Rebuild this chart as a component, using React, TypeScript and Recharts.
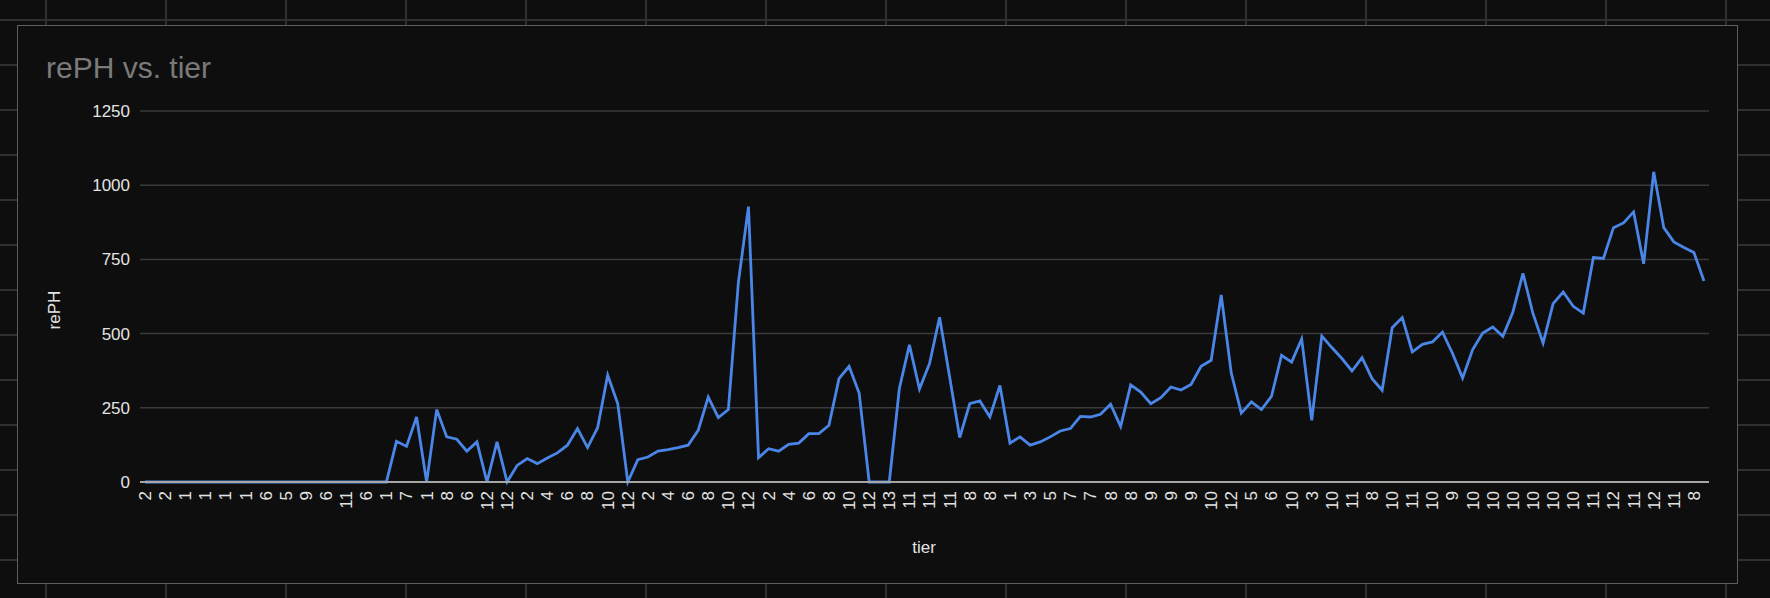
import React from 'react';
import { LineChart, Line, XAxis, YAxis, CartesianGrid } from 'recharts';

const TITLE = 'rePH vs. tier';
const X_TITLE = 'tier';
const Y_TITLE = 'rePH';

const tiers = [
  2, 2, 2, 1, 1, 1, 1, 1, 1, 1, 1, 5, 6, 5, 5, 7, 9, 7, 6, 10,
  11, 8, 6, 3, 1, 6, 7, 4, 1, 9, 8, 7, 6, 11, 12, 12, 12, 1, 2, 3,
  4, 5, 6, 7, 8, 9, 10, 11, 12, 1, 2, 3, 4, 5, 6, 7, 8, 9, 10, 11,
  12, 1, 2, 3, 4, 5, 6, 7, 8, 9, 10, 11, 12, 12, 13, 12, 11, 11, 11, 11,
  11, 9, 8, 8, 8, 8, 1, 2, 3, 4, 5, 6, 7, 7, 7, 8, 8, 8, 8, 9,
  9, 9, 9, 9, 9, 10, 10, 11, 12, 5, 5, 6, 6, 9, 10, 10, 3, 10, 10, 11,
  11, 10, 8, 8, 10, 11, 11, 10, 10, 10, 9, 9, 10, 10, 10, 10, 10, 10, 10, 10,
  10, 10, 10, 10, 11, 11, 12, 12, 11, 11, 12, 12, 11, 10, 8, 8,
];

const rePH = [
  0, 0, 0, 0, 0, 0, 0, 0, 0, 0, 0, 0, 0, 0, 0, 0, 0, 0, 0, 0,
  0, 0, 0, 0, 0, 137, 120, 219, 0, 244, 152, 144, 104, 135, 0, 135, 0, 56, 79, 62,
  81, 98, 124, 180, 116, 183, 360, 264, 0, 75, 84, 104, 109, 116, 124, 174, 286, 217, 244, 674,
  928, 82, 112, 104, 127, 131, 163, 163, 191, 348, 390, 300, 0, 0, 0, 315, 462, 313, 399, 555,
  354, 150, 264, 273, 219, 325, 131, 152, 124, 135, 152, 172, 180, 221, 219, 228, 262, 187, 327, 303,
  264, 284, 320, 310, 329, 390, 410, 630, 367, 232, 270, 244, 289, 427, 404, 482, 208, 492, 453, 416,
  374, 419, 348, 309, 520, 554, 438, 464, 472, 505, 433, 350, 446, 502, 522, 491, 573, 703, 567, 468,
  601, 640, 592, 569, 756, 753, 857, 873, 910, 735, 1045, 857, 809, 790, 773, 677,
];

const yTicks = [0, 250, 500, 750, 1000, 1250];

const data = rePH.map((v, i) => ({ idx: i, tier: tiers[i], rePH: v }));

const FONT = '"Liberation Sans", Arial, Helvetica, sans-serif';
const TICK_COLOR = '#e3e3e3';

const XTick = (props: any) => {
  const { x, y, payload } = props;
  return (
    <text
      x={x}
      y={y}
      transform={`rotate(-90, ${x}, ${y})`}
      textAnchor="end"
      dy="0.35em"
      fill={TICK_COLOR}
      fontSize={17}
      fontFamily={FONT}
    >
      {String(tiers[payload.value])}
    </text>
  );
};

export default function App() {
  return (
    <div
      style={{
        position: 'fixed',
        left: 0,
        top: 0,
        width: 1770,
        height: 598,
        backgroundColor: '#0e0e0e',
        backgroundImage:
          'linear-gradient(to right, #303030 2px, transparent 2px), linear-gradient(to bottom, #303030 2px, transparent 2px)',
        backgroundSize: '120px 100%, 100% 45px',
        backgroundPosition: '45px 0, 0 19px',
        overflow: 'hidden',
        fontFamily: FONT,
      }}
    >
      <div
        style={{
          position: 'absolute',
          left: 17,
          top: 25,
          width: 1721,
          height: 559,
          boxSizing: 'border-box',
          border: '1px solid #5e5e5e',
          background: '#0e0e0e',
        }}
      />
      <div style={{ position: 'absolute', left: 0, top: 0 }}>
        <LineChart
          width={1770}
          height={598}
          data={data}
          margin={{ top: 111, right: 61, bottom: 56, left: 0 }}
        >
          <CartesianGrid vertical={false} stroke="#3a3a3a" strokeWidth={1.5} />
          <YAxis
            type="number"
            domain={[0, 1250]}
            ticks={yTicks}
            width={140}
            axisLine={false}
            tickLine={false}
            tickSize={0}
            tickMargin={10}
            tick={{ fill: TICK_COLOR, fontSize: 17, fontFamily: FONT }}
          />
          <XAxis
            dataKey="idx"
            type="category"
            height={60}
            interval={1}
            padding={{ left: 5, right: 5 }}
            tickLine={false}
            tickSize={0}
            tickMargin={9}
            axisLine={{ stroke: '#a6a6a6', strokeWidth: 2 }}
            tick={<XTick />}
          />
          <Line
            type="linear"
            dataKey="rePH"
            stroke="#4a86e8"
            strokeWidth={2.8}
            dot={false}
            activeDot={false}
            isAnimationActive={false}
          />
        </LineChart>
      </div>
      <svg
        width={1770}
        height={598}
        style={{ position: 'absolute', left: 0, top: 0, pointerEvents: 'none' }}
      >
        <text x={46} y={78} fontSize={30} fill="#7a7a7a" fontFamily={FONT}>
          {TITLE}
        </text>
        <text
          x={54}
          y={310}
          transform="rotate(-90, 54, 310)"
          textAnchor="middle"
          dy="0.35em"
          fontSize={17}
          fill={TICK_COLOR}
          fontFamily={FONT}
        >
          {Y_TITLE}
        </text>
        <text x={924} y={553} textAnchor="middle" fontSize={17} fill={TICK_COLOR} fontFamily={FONT}>
          {X_TITLE}
        </text>
      </svg>
    </div>
  );
}
